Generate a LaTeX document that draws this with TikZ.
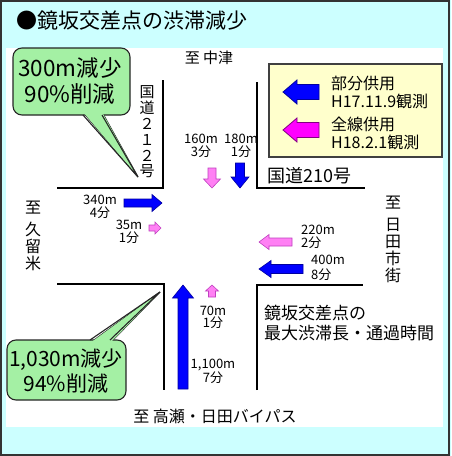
\documentclass[tikz,border=0pt]{standalone}
\usepackage{fontspec}
\setmainfont{Noto Sans CJK JP}
\definecolor{bgcyan}{HTML}{CCFFFF}
\definecolor{bluefill}{HTML}{0000FF}
\definecolor{blueline}{HTML}{0000A0}
\definecolor{pinkfill}{HTML}{FF80F4}
\definecolor{pinkline}{HTML}{C040C0}
\definecolor{magfill}{HTML}{FF00FF}
\definecolor{magline}{HTML}{800080}
\definecolor{callgreen}{HTML}{A4F0A4}
\definecolor{legendfill}{HTML}{FFFFCC}
\tikzset{
  road/.style={line width=1.5pt, black},
  bluearr/.style={fill=bluefill, draw=blueline, line width=0.6pt},
  pinkarr/.style={fill=pinkfill, draw=pinkline, line width=0.6pt},
  magarr/.style={fill=magfill, draw=magline, line width=0.8pt},
  callout/.style={fill=callgreen, draw=black!85, line width=1.1pt},
  calledge/.style={draw=black!85, line width=1.1pt, line join=miter},
  small/.style={font=\fontsize{13}{13}\selectfont, align=center, inner sep=0pt},
  roadname/.style={font=\fontsize{16}{17}\selectfont, align=center, inner sep=0pt},
  bigtxt/.style={font=\fontsize{22.5}{26}\selectfont, align=center, inner sep=0pt},
}
\newcommand\blockarrow[8]{\draw[#1,shift={(#2,#3)},rotate=#4] (0,-#6) -- (#5-#8,-#6) -- (#5-#8,-#7) -- (#5,0) -- (#5-#8,#7) -- (#5-#8,#6) -- (0,#6) -- cycle;}
\begin{document}
\begin{tikzpicture}[x=1pt,y=-1pt]
\useasboundingbox (0,0) rectangle (451,456);
% frame
\fill[bgcyan] (0,0) rectangle (451,456);
\draw[black!80, line width=2pt] (1,1) rectangle (449,455);
\fill[white] (6,48) rectangle (443,427);
% title
\node[anchor=west, inner sep=0pt, font=\fontsize{21}{24}\selectfont] (title) at (16,21) {●鏡坂交差点の渋滞減少};
% roads
\draw[road] (57,188) -- (163,188) -- (163,80);
\draw[road] (257,82) -- (257,188) -- (365,188);
\draw[road] (57,284) -- (164,284) -- (164,390);
\draw[road] (257,390) -- (257,285) -- (363,285);
% road names
\node[roadname, font=\fontsize{15}{16}\selectfont] (north) at (209,58) {至 中津};
\node[roadname, font=\fontsize{15}{15.8}\selectfont] (r212) at (147,132) {国\\道\\２\\１\\２\\号};
\node[anchor=west, inner sep=0pt, font=\fontsize{18}{20}\selectfont] (r210) at (267,176) {国道210号};
\node[roadname] (east) at (393,239) {至\\[5pt]日\\田\\市\\街};
\node[roadname] (west) at (33,236) {至\\[5pt]久\\留\\米};
\node[roadname] (south) at (215,416) {至 高瀬・日田バイパス};
\node[anchor=west, align=left, inner sep=0pt, font=\fontsize{17}{20}\selectfont] (caption) at (264,323) {鏡坂交差点の\\最大渋滞長・通過時間};
% legend
\draw[fill=legendfill, draw=black!75, line width=1.5pt] (269,64) rectangle (442,157);
\blockarrow{fill=bluefill, draw=blueline, line width=0.8pt}{319}{92}{180}{36}{7.5}{12}{14}
\blockarrow{magarr}{319}{130}{180}{36}{7.5}{12}{14}
\node[anchor=west, align=left, inner sep=0pt, font=\fontsize{16}{18}\selectfont] (leg1) at (331,92) {部分供用\\H17.11.9観測};
\node[anchor=west, align=left, inner sep=0pt, font=\fontsize{16}{18}\selectfont] (leg2) at (331,133) {全線供用\\H18.2.1観測};
% arrows at intersection
\blockarrow{bluearr}{124}{203}{0}{38}{4}{8.5}{10}
\blockarrow{pinkarr}{149}{228}{0}{12}{3}{6}{6}
\blockarrow{pinkarr}{212}{168}{-90}{20}{4}{8.5}{9}
\blockarrow{bluearr}{240}{163}{-90}{25}{4.5}{9}{11}
\blockarrow{pinkarr}{292}{242}{180}{33}{4}{7.5}{10}
\blockarrow{bluearr}{303}{269}{180}{44}{4.5}{8.5}{12}
\blockarrow{bluearr}{183}{389}{90}{104}{5}{10.5}{13}
\blockarrow{pinkarr}{212}{297}{90}{12}{3.5}{6.5}{6}
% labels
\node[small] (l340) at (100,207) {340m\\4分};
\node[small] (l35) at (129,232) {35m\\1分};
\node[small] (l160) at (201,146) {160m\\3分};
\node[small] (l180) at (241,146) {180m\\1分};
\node[small, anchor=west, align=left] (l220) at (301,237) {220m\\2分};
\node[small, anchor=west, align=left, font=\fontsize{13}{15}\selectfont] (l400) at (311,268) {400m\\8分};
\node[small, font=\fontsize{13}{12}\selectfont] (l70) at (213,317) {70m\\1分};
\node[small, font=\fontsize{13}{12}\selectfont] (l1100) at (213,371) {1,100m\\7分};
% callout 1
\draw[callout] (83,112) -- (138,177) -- (102,112) -- cycle;
\draw[callout, rounded corners=9pt] (13,48) rectangle (130,115);
\fill[callgreen] (83,112) -- (138,177) -- (102,112) -- cycle;
\draw[calledge] (83,115) -- (138,177) -- (102,115);
\node[bigtxt] (c1) at (70,81) {300m減少\\90\%削減};
% callout 2
\draw[callout] (90,343) -- (160,292) -- (110,343) -- cycle;
\draw[callout, rounded corners=9pt] (7,340) rectangle (126,400);
\fill[callgreen] (90,343) -- (160,292) -- (110,343) -- cycle;
\draw[calledge] (90,340) -- (160,292) -- (110,340);
\node[bigtxt, font=\fontsize{21}{25}\selectfont] (c2) at (66,371) {1,030m減少\\94\%削減};
\end{tikzpicture}
\end{document}
